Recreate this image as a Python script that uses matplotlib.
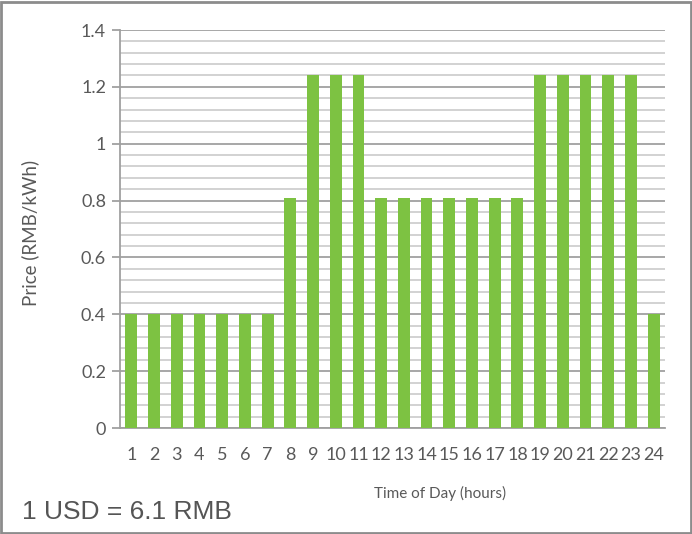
import numpy as np
import matplotlib.pyplot as plt
from matplotlib.patches import Rectangle
from matplotlib.ticker import MultipleLocator

# Hourly electricity price data
hours = list(range(1, 25))
prices = [0.4, 0.4, 0.4, 0.4, 0.4, 0.4, 0.4, 0.81,
          1.24, 1.24, 1.24, 0.81, 0.81, 0.81, 0.81, 0.81,
          0.81, 0.81, 1.24, 1.24, 1.24, 1.24, 1.24, 0.4]
y_ticks = [0, 0.2, 0.4, 0.6, 0.8, 1.0, 1.2, 1.4]
y_tick_labels = ['0', '0.2', '0.4', '0.6', '0.8', '1', '1.2', '1.4']

BAR_COLOR = '#7DC242'
TEXT_COLOR = '#595959'

fig = plt.figure(figsize=(6.92, 5.34), dpi=100)
ax = fig.add_axes([0.1734, 0.1985, 0.7876, 0.7453])

ax.bar(hours, prices, width=0.52, color=BAR_COLOR, zorder=3)

ax.set_xlim(0.5, 24.5)
ax.set_ylim(0, 1.4)
ax.set_xticks(hours)
ax.set_xticklabels([str(h) for h in hours])
ax.set_yticks(y_ticks)
ax.set_yticklabels(y_tick_labels)
ax.yaxis.set_minor_locator(MultipleLocator(0.04))

# gridlines: major darker, minor lighter
ax.grid(axis='y', which='major', color='#A0A0A0', linewidth=1.3, zorder=0)
ax.grid(axis='y', which='minor', color='#CFCFCF', linewidth=1.3, zorder=0)

for s in ['top', 'right']:
    ax.spines[s].set_visible(False)
ax.spines['left'].set_color('#A0A0A0')
ax.spines['bottom'].set_color('#A0A0A0')
ax.spines['left'].set_linewidth(1.3)
ax.spines['bottom'].set_linewidth(1.3)

ax.tick_params(axis='y', which='major', length=6, width=1.3, color='#A0A0A0',
               labelsize=13, labelcolor=TEXT_COLOR, pad=4)
ax.tick_params(axis='y', which='minor', length=0)
ax.tick_params(axis='x', length=0, labelsize=13, labelcolor=TEXT_COLOR, pad=14)
for lab in ax.get_xticklabels() + ax.get_yticklabels():
    lab.set_family('Lato')

ax.set_xlabel('Time of Day (hours)', fontsize=11, color=TEXT_COLOR, family='Lato')
ax.set_ylabel('Price (RMB/kWh)', fontsize=13.5, color=TEXT_COLOR, family='Lato')
ax.xaxis.set_label_coords(0.587, -0.146)
ax.yaxis.set_label_coords(-0.148, 0.49)

fig.text(0.032, 0.028, '1 USD = 6.1 RMB', fontsize=19, color='#555555',
         family='Liberation Sans', ha='left', va='baseline')

# border around the whole figure
fig.patches.append(Rectangle((0.001, 0.001), 0.997, 0.996, transform=fig.transFigure,
                             fill=False, edgecolor='#8C8C8C', linewidth=2))

fig.savefig('out.png', dpi=100)
